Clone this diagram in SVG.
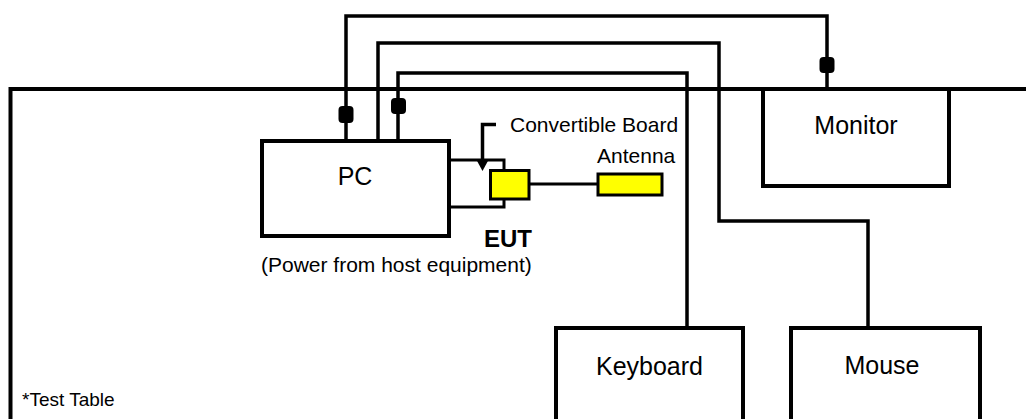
<svg xmlns="http://www.w3.org/2000/svg" width="1026" height="419" viewBox="0 0 1026 419">
<style>
.box{fill:#fff;stroke:#000;stroke-width:4}
.cable{fill:none;stroke:#000;stroke-width:3.5;stroke-linejoin:miter}
.thin{fill:none;stroke:#000;stroke-width:3}
.yel{fill:#ffff00;stroke:#000;stroke-width:3}
.lbl{font-family:"Liberation Sans",Arial,sans-serif;fill:#000}
.blob{fill:#000}
</style>
<rect width="1026" height="419" fill="#fff"/>
<g id="table">
<path d="M10.5 419 V89 H1026" fill="none" stroke="#000" stroke-width="4"/>
<text class="lbl" x="22" y="406" font-size="19">*Test Table</text>
</g>
<g id="connectors">
<path class="cable" d="M346 141 V16 H827 V89"/>
<path class="cable" d="M378 141 V43 H719 V221 H868 V328"/>
<path class="cable" d="M398 141 V73 H687 V328"/>
<rect class="blob" x="338.5" y="106" width="15" height="17" rx="4"/>
<rect class="blob" x="391" y="98" width="15" height="16" rx="4"/>
<rect class="blob" x="819.5" y="57" width="15" height="16" rx="4"/>
<path class="thin" d="M529 184 H598"/>
<path fill="none" stroke="#000" stroke-width="3.5" d="M496 124.5 H482.5 V160"/>
<polygon points="476,159 489,159 482.5,171" fill="#000"/>
</g>
<g id="pc">
<rect class="box" x="262" y="141" width="187" height="95"/>
<text class="lbl" x="355" y="185" font-size="25" text-anchor="middle">PC</text>
</g>
<g id="eut">
<rect class="thin" x="449" y="160" width="55" height="47"/>
<rect class="yel" x="490.5" y="170.5" width="38.5" height="28.5"/>
<text class="lbl" x="508" y="247" font-size="24" font-weight="bold" text-anchor="middle">EUT</text>
<text class="lbl" x="261" y="272" font-size="21">(Power from host equipment)</text>
<text class="lbl" x="510" y="132" font-size="21">Convertible Board</text>
</g>
<g id="antenna">
<rect class="yel" x="598" y="174" width="64" height="21"/>
<text class="lbl" x="597" y="163" font-size="21">Antenna</text>
</g>
<g id="monitor">
<rect class="box" x="763" y="89" width="186" height="97"/>
<text class="lbl" x="856" y="134" font-size="25" text-anchor="middle">Monitor</text>
</g>
<g id="keyboard">
<path class="box" d="M556 421 V328 H743 V421"/>
<text class="lbl" x="649.5" y="375" font-size="25" text-anchor="middle">Keyboard</text>
</g>
<g id="mouse">
<path class="box" d="M791 421 V328 H980 V421"/>
<text class="lbl" x="882" y="374" font-size="25" text-anchor="middle">Mouse</text>
</g>
</svg>
